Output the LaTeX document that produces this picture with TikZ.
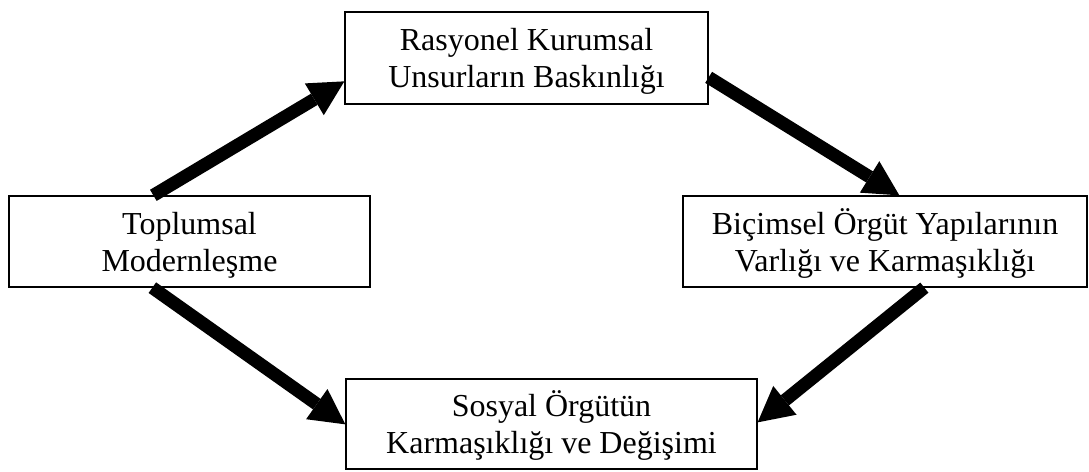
\documentclass[tikz,border=0pt]{standalone}
\usepackage{fontspec}
\setmainfont{Liberation Serif}
\usetikzlibrary{arrows.meta,calc}
\newcommand\mytopstrut{\rule{0pt}{30pt}}
\newcommand\mybotstrut{\rule[-8pt]{0pt}{8pt}}
\tikzset{
  box/.style={draw=black, line width=1.3pt, inner sep=0pt, align=center,
    font=\fontsize{32}{37}\selectfont},
  bigarrow/.style={line width=13pt, line cap=butt,
    -{Triangle[length=35pt,width=37pt,line width=0pt]}}
}
\begin{document}
\begin{tikzpicture}[x=1pt,y=-1pt]
\useasboundingbox (0,0) rectangle (1089,471);
\node[box, minimum width=363pt, minimum height=92pt] (T) at (526.5,58) {\mytopstrut Rasyonel Kurumsal\\Unsurların Baskınlığı\mybotstrut};
\node[box, minimum width=361pt, minimum height=91pt] (L) at (189.5,241.5) {\mytopstrut Toplumsal\\Modernleşme\mybotstrut};
\node[box, minimum width=404pt, minimum height=91pt] (R) at (885,241.5) {\mytopstrut Biçimsel Örgüt Yapılarının\\Varlığı ve Karmaşıklığı\mybotstrut};
\node[box, minimum width=411pt, minimum height=90pt] (B) at (551.5,424) {\mytopstrut Sosyal Örgütün\\Karmaşıklığı ve Değişimi\mybotstrut};
\draw[bigarrow] ([xshift=145pt]L.north west) -- ([yshift=-70pt]T.north west);
\draw[bigarrow] ([yshift=-66pt]T.north east) -- ([xshift=217pt]R.north west);
\draw[bigarrow] ([xshift=144pt]L.south west) -- ([yshift=-46pt]B.north west);
\draw[bigarrow] ([xshift=242pt]R.south west) -- ([yshift=-44pt]B.north east);
\end{tikzpicture}
\end{document}
